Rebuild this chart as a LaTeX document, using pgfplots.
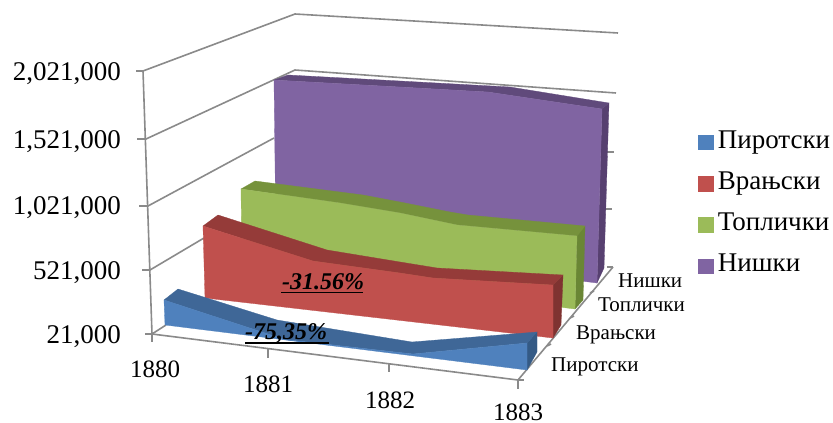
\documentclass[border=0pt]{standalone}
\usepackage{pgfplots}
\pgfplotsset{compat=1.18}
\usepackage{fontspec}
\setmainfont{Liberation Serif}
\definecolor{gridc}{HTML}{8A8A8A}
\definecolor{bF}{HTML}{4F81BD}\definecolor{bT}{HTML}{3F6797}\definecolor{bS}{HTML}{345A85}
\definecolor{rF}{HTML}{C0504D}\definecolor{rT}{HTML}{953B39}\definecolor{rS}{HTML}{7F3331}
\definecolor{gF}{HTML}{9BBB59}\definecolor{gT}{HTML}{76923C}\definecolor{gS}{HTML}{6A8635}
\definecolor{pF}{HTML}{8064A2}\definecolor{pT}{HTML}{604A7B}\definecolor{pS}{HTML}{574070}
\newcommand{\fs}[1]{\fontsize{#1}{#1}\selectfont}
\begin{document}
\begin{tikzpicture}
\path[use as bounding box] (0pt,0pt) rectangle (833pt,423pt);
\begin{axis}[
  at={(0pt,0pt)}, anchor=south west,
  scale only axis, width=833pt, height=423pt,
  xmin=0, xmax=833, ymin=0, ymax=423, y dir=reverse,
  hide axis, clip=false,
  legend style={at={(axis cs:698,130)}, anchor=north west, draw=none, fill=none,
    row sep=17.3pt, inner sep=0pt, outer sep=0pt,
    /tikz/every odd column/.append style={column sep=5pt},
    nodes={inner sep=0pt, text height=18pt, text depth=6pt, anchor=base west, font=\fs{27}}},
  legend cell align=left,
  legend image code/.code={\fill[#1] (0pt,-1.5pt) rectangle (14.5pt,13pt);},
  grid line/.style={gridc, line width=1.6pt, forget plot},
  face/.style={fill=#1, draw=#1, line width=0.3pt, forget plot},
]
% walls, gridlines and axes
\addplot[grid line] coordinates {(136,71) (143,71) (295,14) (618,33)};
\addplot[grid line] coordinates {(137,139) (146,139) (295,70) (616,93)};
\addplot[grid line] coordinates {(139,206) (148,206) (274,138)};
\addplot[grid line] coordinates {(142,270) (150,270) (204,238)};
\addplot[grid line] coordinates {(143,71) (152,334)};
\addplot[grid line] coordinates {(145,334) (152,334) (518,380) (613,267)};
\addplot[grid line] coordinates {(152,334) (166,325)};
\addplot[grid line] coordinates {(152,334) (152,342)};
\addplot[grid line] coordinates {(268,349) (268,358)};
\addplot[grid line] coordinates {(389,364) (389,372)};
\addplot[grid line] coordinates {(518,380) (518,389)};
\addplot[grid line] coordinates {(518,380) (524,380)};
\addplot[grid line] coordinates {(547,346) (551,344)};
\addplot[grid line] coordinates {(570,318) (574,316)};
\addplot[grid line] coordinates {(590,293) (594,291)};
\addplot[grid line] coordinates {(607,267) (613,267)};
\addplot[grid line] coordinates {(606,152) (614,152)};
\addplot[grid line] coordinates {(604,209) (612,209)};
% Nishki
\addplot[face=pS] coordinates {(602,109) (609,103) (604,268) (597,283)} --cycle;
\addplot[face=pT] coordinates {(274,80) (288,75) (400,81) (510,87) (609,103) (602,109) (488,92) (400,87)} --cycle;
\addplot[face=pF] coordinates {(274,80) (400,87) (488,92) (602,109) (597,283) (276,243)} --cycle;
% Toplichki
\addplot[face=gS] coordinates {(577,236) (585,226) (583,300) (575,309)} --cycle;
\addplot[face=gT] coordinates {(241,189) (255,181) (363,195) (400,202) (450,212) (468,215) (585,226) (577,236) (457,225) (400,213) (340,203)} --cycle;
\addplot[face=gF] coordinates {(241,189) (340,203) (400,213) (457,225) (577,236) (575,309) (242,268)} --cycle;
% Vranjski
\addplot[face=rS] coordinates {(553,285) (563,275) (561,325) (553,338)} --cycle;
\addplot[face=rT] coordinates {(203,226) (218,215) (327,250) (400,262) (437,268) (563,275) (553,285) (433,278) (400,273) (313,261)} --cycle;
\addplot[face=rF] coordinates {(203,226) (313,261) (400,273) (433,278) (553,285) (553,338) (205,298)} --cycle;
% Pirotski
\addplot[face=bS] coordinates {(527,343) (537,332) (537,352) (527,370)} --cycle;
\addplot[face=bT] coordinates {(164,300) (178,289) (277,320) (412,342) (537,332) (527,343) (413,354) (285,339.5)} --cycle;
\addplot[face=bF] coordinates {(164,300) (285,339.5) (413,354) (527,343) (527,370) (165,325)} --cycle;
% legend
\addlegendimage{bF}\addlegendentry{Пиротски}
\addlegendimage{rF}\addlegendentry{Врањски}
\addlegendimage{gF}\addlegendentry{Топлички}
\addlegendimage{pF}\addlegendentry{Нишки}
% percent labels
\addplot[black, line width=1.8pt, forget plot] coordinates {(281,292.5) (363,292.5)};
\addplot[black, line width=1.8pt, forget plot] coordinates {(245,343) (329,343)};
\node[anchor=base west, inner sep=0pt, font=\fs{24}\bfseries\itshape] at (axis cs:282,289) {-31.56\%};
\node[anchor=base west, inner sep=0pt, font=\fs{24}\bfseries\itshape] at (axis cs:245,339) {-75,35\%};
% value labels
\foreach \v/\y in {2{,}021{,}000/80, 1{,}521{,}000/148, 1{,}021{,}000/214, 521{,}000/279, 21{,}000/343}{
  \edef\tmp{\noexpand\node[anchor=base east, inner sep=0pt, font=\noexpand\fs{27}] at (axis cs:121,\y) {\v};}
  \tmp
}
% year labels
\node[anchor=base, inner sep=0pt, font=\fs{25}] at (axis cs:155,377) {1880};
\node[anchor=base, inner sep=0pt, font=\fs{25}] at (axis cs:268,392) {1881};
\node[anchor=base, inner sep=0pt, font=\fs{25}] at (axis cs:390,408) {1882};
\node[anchor=base, inner sep=0pt, font=\fs{25}] at (axis cs:518,420) {1883};
% depth labels
\node[anchor=base west, inner sep=0pt, font=\fs{21}] at (axis cs:618,287) {Нишки};
\node[anchor=base west, inner sep=0pt, font=\fs{21}] at (axis cs:598,311) {Топлички};
\node[anchor=base west, inner sep=0pt, font=\fs{21}] at (axis cs:576,339) {Врањски};
\node[anchor=base west, inner sep=0pt, font=\fs{21}] at (axis cs:551,371) {Пиротски};
\end{axis}
\end{tikzpicture}
\end{document}
